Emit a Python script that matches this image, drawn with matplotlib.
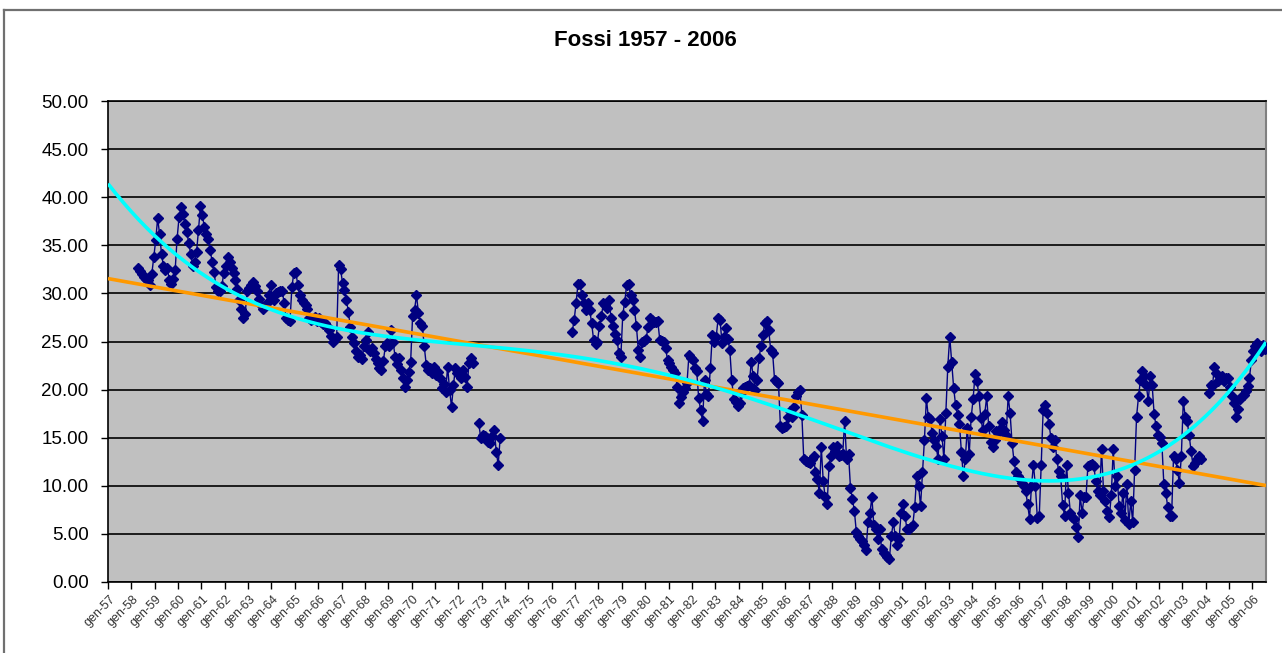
import numpy as np
import matplotlib.pyplot as plt
from matplotlib.lines import Line2D

plt.rcParams['font.family'] = ['Liberation Sans', 'DejaVu Sans']

NA = None  # mese senza dato

# ── Valori mensili (gen-57 ... lug-06) ──
fossi_1957_1959 = [
    NA, NA, NA, NA, NA, NA, NA, NA, NA, NA, NA, NA,                    # 1957
    NA, NA, NA, 32.6, 32.3, 32.0, 31.7, 31.5, 31.4, 30.9, 32.0, 33.8,  # 1958
    35.5, 37.8, 36.2, 34.1, 32.8, 32.4, 32.6, 31.4, 31.0, 31.5, 32.4, 35.7,  # 1959
]
fossi_1960_1969 = [
    37.9, 39.0, 38.3, 37.2, 36.4, 35.2, 34.1, 32.9, 33.3, 34.3, 36.6, 39.1,  # 1960
    38.1, 36.9, 36.2, 35.7, 34.5, 33.3, 32.2, 30.7, 30.3, 30.2, 30.8, 32.1,  # 1961
    32.9, 33.8, 33.3, 32.6, 32.1, 31.4, 30.5, 29.3, 28.4, 27.4, 27.9, 30.3,  # 1962
    30.6, 30.9, 31.2, 30.8, 30.3, 29.4, 28.8, 28.4, 28.7, 29.0, 29.8, 30.9,  # 1963
    29.5, 29.3, 30.0, 30.1, 30.2, 30.3, 29.0, 27.4, 27.2, 27.1, 30.7, 32.1,  # 1964
    32.2, 30.9, 29.8, 29.3, 29.0, 28.8, 28.4, 27.4, 27.2, 27.3, 27.5, 27.1,  # 1965
    27.4, 27.0, 26.8, 26.9, 26.6, 26.2, 25.6, 25.0, 25.3, 25.5, 33.0, 32.5,  # 1966
    31.1, 30.4, 29.3, 28.1, 26.5, 25.5, 24.8, 24.0, 23.4, 23.6, 23.2, 24.5,  # 1967
    25.2, 26.0, 24.0, 24.3, 23.8, 23.2, 22.8, 22.2, 22.0, 23.0, 24.5, 24.8,  # 1968
    24.5, 26.2, 25.0, 23.4, 22.7, 23.3, 22.0, 21.2, 20.3, 21.0, 21.8, 22.9,  # 1969
]
fossi_1970_1979 = [
    27.6, 28.3, 29.8, 28.0, 26.9, 26.6, 24.5, 22.6, 22.0, 22.2, 21.7, 22.4,  # 1970
    21.5, 21.8, 21.2, 20.2, 20.6, 19.8, 22.4, 20.0, 18.2, 20.5, 22.2, 21.7,  # 1971
    21.7, 21.2, 22.0, 21.3, 20.3, 22.8, 23.3, 22.8, NA, NA, 16.5, 15.0,      # 1972
    15.3, 15.2, 15.0, 14.6, 14.4, 15.2, 15.8, 13.5, 12.2, 15.0, NA, NA,      # 1973
    NA, NA, NA, NA, NA, NA, NA, NA, NA, NA, NA, NA,                          # 1974
    NA, NA, NA, NA, NA, NA, NA, NA, NA, NA, NA, NA,                          # 1975
    NA, NA, NA, NA, NA, NA, NA, NA, NA, NA, 26.0, 27.2,                      # 1976
    29.0, 31.0, 31.0, 29.8, 29.0, 28.3, 29.0, 28.3, 26.9, 25.2, 24.7, 25.0,  # 1977
    26.6, 27.6, 29.0, 28.8, 28.5, 29.3, 27.4, 26.6, 25.8, 25.2, 23.8, 23.4,  # 1978
    27.8, 29.1, 30.9, 31.0, 29.8, 29.3, 28.3, 26.6, 24.1, 23.4, 25.0, 25.1,  # 1979
]
fossi_1980_1989 = [
    25.3, 26.5, 27.4, 27.2, 27.0, 27.0, 27.1, 25.2, 25.1, 25.0, 24.3, 23.1,  # 1980
    22.8, 22.4, 22.0, 21.7, 20.3, 18.6, 19.2, 19.7, 20.2, 20.7, 23.6, 23.3,  # 1981
    23.1, 22.2, 21.9, 19.1, 17.9, 16.7, 21.0, 19.5, 19.3, 22.2, 25.7, 25.0,  # 1982
    25.5, 27.4, 27.2, 24.8, 25.5, 26.4, 25.3, 24.1, 21.0, 19.0, 18.7, 18.3,  # 1983
    18.6, 19.6, 20.2, 20.3, 20.4, 20.5, 22.9, 21.4, 20.0, 21.0, 23.3, 24.5,  # 1984
    25.7, 26.9, 27.1, 26.2, 24.1, 23.8, 21.0, 20.8, 20.7, 16.2, 16.0, 16.1,  # 1985
    16.2, 17.1, 17.8, 17.1, 18.2, 19.3, 19.8, 20.0, 17.4, 12.8, 12.6, 12.5,  # 1986
    12.4, 12.8, 13.1, 11.4, 10.7, 9.3, 14.0, 10.5, 8.8, 8.1, 12.1, 13.1,     # 1987
    14.0, 13.6, 14.1, 13.1, 13.2, 13.3, 16.7, 12.8, 13.3, 9.8, 8.6, 7.4,     # 1988
    5.2, 4.8, 4.5, 4.3, 3.8, 3.3, 6.2, 7.2, 8.8, 5.9, 5.5, 4.5,              # 1989
]
fossi_1990_1999 = [
    5.5, 3.4, 3.0, 2.8, 2.6, 2.4, 4.8, 6.2, 4.8, 3.8, 4.5, 7.2,              # 1990
    8.1, 6.9, 5.5, 5.5, 5.7, 5.9, 7.8, 11.0, 10.0, 7.9, 11.4, 14.8,          # 1991
    19.1, 17.1, 16.9, 15.5, 14.8, 14.1, 12.8, 16.9, 15.2, 12.8, 17.6, 22.4,  # 1992
    25.5, 22.9, 20.2, 18.4, 17.4, 16.4, 13.5, 11.0, 12.8, 16.0, 13.3, 17.1,  # 1993
    19.0, 21.6, 20.9, 19.3, 17.0, 15.8, 17.5, 19.3, 16.2, 14.6, 14.0, 14.8,  # 1994
    15.7, 15.5, 15.9, 16.6, 15.8, 15.3, 19.3, 17.6, 14.5, 12.6, 11.4, 11.0,  # 1995
    10.7, 10.3, 10.0, 9.5, 8.1, 6.6, 10.0, 12.2, 10.0, 6.7, 6.9, 12.2,       # 1996
    17.9, 18.4, 17.6, 16.4, 15.0, 14.0, 14.8, 12.8, 11.5, 11.0, 8.0, 6.9,    # 1997
    12.2, 9.3, 7.2, 6.8, 6.5, 5.7, 4.7, 9.0, 7.2, 8.8, 8.8, 12.1,            # 1998
    12.2, 12.3, 12.1, 10.5, 9.5, 9.0, 13.8, 9.5, 8.4, 7.4, 6.8, 9.0,         # 1999
]
fossi_2000_2006 = [
    13.8, 10.0, 11.0, 7.9, 7.2, 9.3, 6.4, 10.2, 6.0, 8.4, 6.2, 11.6,         # 2000
    17.2, 19.3, 21.0, 21.9, 21.4, 20.5, 18.8, 21.4, 20.5, 17.5, 16.2, 15.3,  # 2001
    15.1, 14.4, 10.2, 9.3, 7.8, 6.9, 6.9, 13.1, 12.8, 11.6, 10.3, 13.1,      # 2002
    18.8, 17.2, 16.7, 15.3, 13.6, 12.1, 12.4, 12.8, 13.1, 12.8, NA, NA,      # 2003
    NA, 19.6, 20.5, 20.4, 22.4, 21.7, 20.9, 21.1, 21.4, 20.9, 21.2, 21.2,    # 2004
    20.3, 19.3, 18.6, 17.2, 18.0, 19.0, 19.3, 19.4, 19.9, 20.4, 21.2, 23.1,  # 2005
    24.0, 24.5, 24.8, 24.3, 24.0, 24.6, 24.2,                                # 2006
]
years = list(range(1957, 2007))
year_labels = ["gen-%02d" % (y % 100) for y in years]
y_ticks = [0, 5, 10, 15, 20, 25, 30, 35, 40, 45, 50]

values = (fossi_1957_1959 + fossi_1960_1969 + fossi_1970_1979 +
          fossi_1980_1989 + fossi_1990_1999 + fossi_2000_2006)
y = np.array([np.nan if v is None else v for v in values], dtype=float)
x = np.arange(len(y))
n = len(y)

# ── Figure ──
W, H = 1282, 653
fig = plt.figure(figsize=(W / 100, H / 100), dpi=100)
fig.patch.set_facecolor("white")

# bordo area grafico (visibile solo sopra e a sinistra)
fig.add_artist(Line2D([4 / W, 4 / W], [0, 1 - 9.5 / H], transform=fig.transFigure,
                      color="#707070", lw=1.6))
fig.add_artist(Line2D([4 / W, 1], [1 - 9.5 / H, 1 - 9.5 / H], transform=fig.transFigure,
                      color="#707070", lw=1.6))

ax = fig.add_axes([108 / W, (H - 582) / H, 1158 / W, 481 / H])
ax.set_facecolor("#C0C0C0")

# serie
ax.plot(x, y, color="#000080", lw=1.0, marker="D", ms=4.8,
        mfc="#000080", mec="#000080", zorder=3)

# linee di tendenza (lineare e polinomiale) calcolate sulla serie
ok = ~np.isnan(y)
xs = x[ok] + 1.0
lin = np.polynomial.Polynomial.fit(xs, y[ok], 1)
pol = np.polynomial.Polynomial.fit(xs, y[ok], 4)
xt = np.linspace(-0.5, n - 0.5, 600)
ax.plot(xt, lin(xt + 1), color="#FF9900", lw=2.6, zorder=4, solid_capstyle="butt")
ax.plot(xt, pol(xt + 1), color="#00FFFF", lw=2.6, zorder=5, solid_capstyle="butt")

# assi
ax.set_xlim(-0.5, n - 0.5)
ax.set_ylim(0, 50)
ax.set_yticks(y_ticks)
ax.set_yticklabels(["%.2f" % v for v in y_ticks])
ax.yaxis.grid(True, color="black", lw=1.2)
ax.set_axisbelow(True)

ax.set_xticks([12 * k - 0.5 for k in range(len(years))])
ax.set_xticklabels([])
ax.set_xticks([12 * k for k in range(len(years))], minor=True)
ax.set_xticklabels(year_labels, minor=True, rotation=45, ha="right",
                   rotation_mode="anchor", fontsize=9, color="#333333")
ax.tick_params(axis="x", which="major", length=5, width=1, color="black", direction="out")
ax.tick_params(axis="x", which="minor", length=0, pad=8)
ax.tick_params(axis="y", length=5, width=1, color="black", labelsize=13.5, pad=9)

for side in ("left", "bottom", "top"):
    ax.spines[side].set_color("black")
    ax.spines[side].set_linewidth(1.2)
ax.spines["right"].set_color("#808080")
ax.spines["right"].set_linewidth(1.5)

fig.text(645 / W, 1 - 40 / H, "Fossi 1957 - 2006", ha="center", va="center",
         fontsize=16, fontweight="bold")

fig.savefig("out.png", dpi=100, facecolor="white")
